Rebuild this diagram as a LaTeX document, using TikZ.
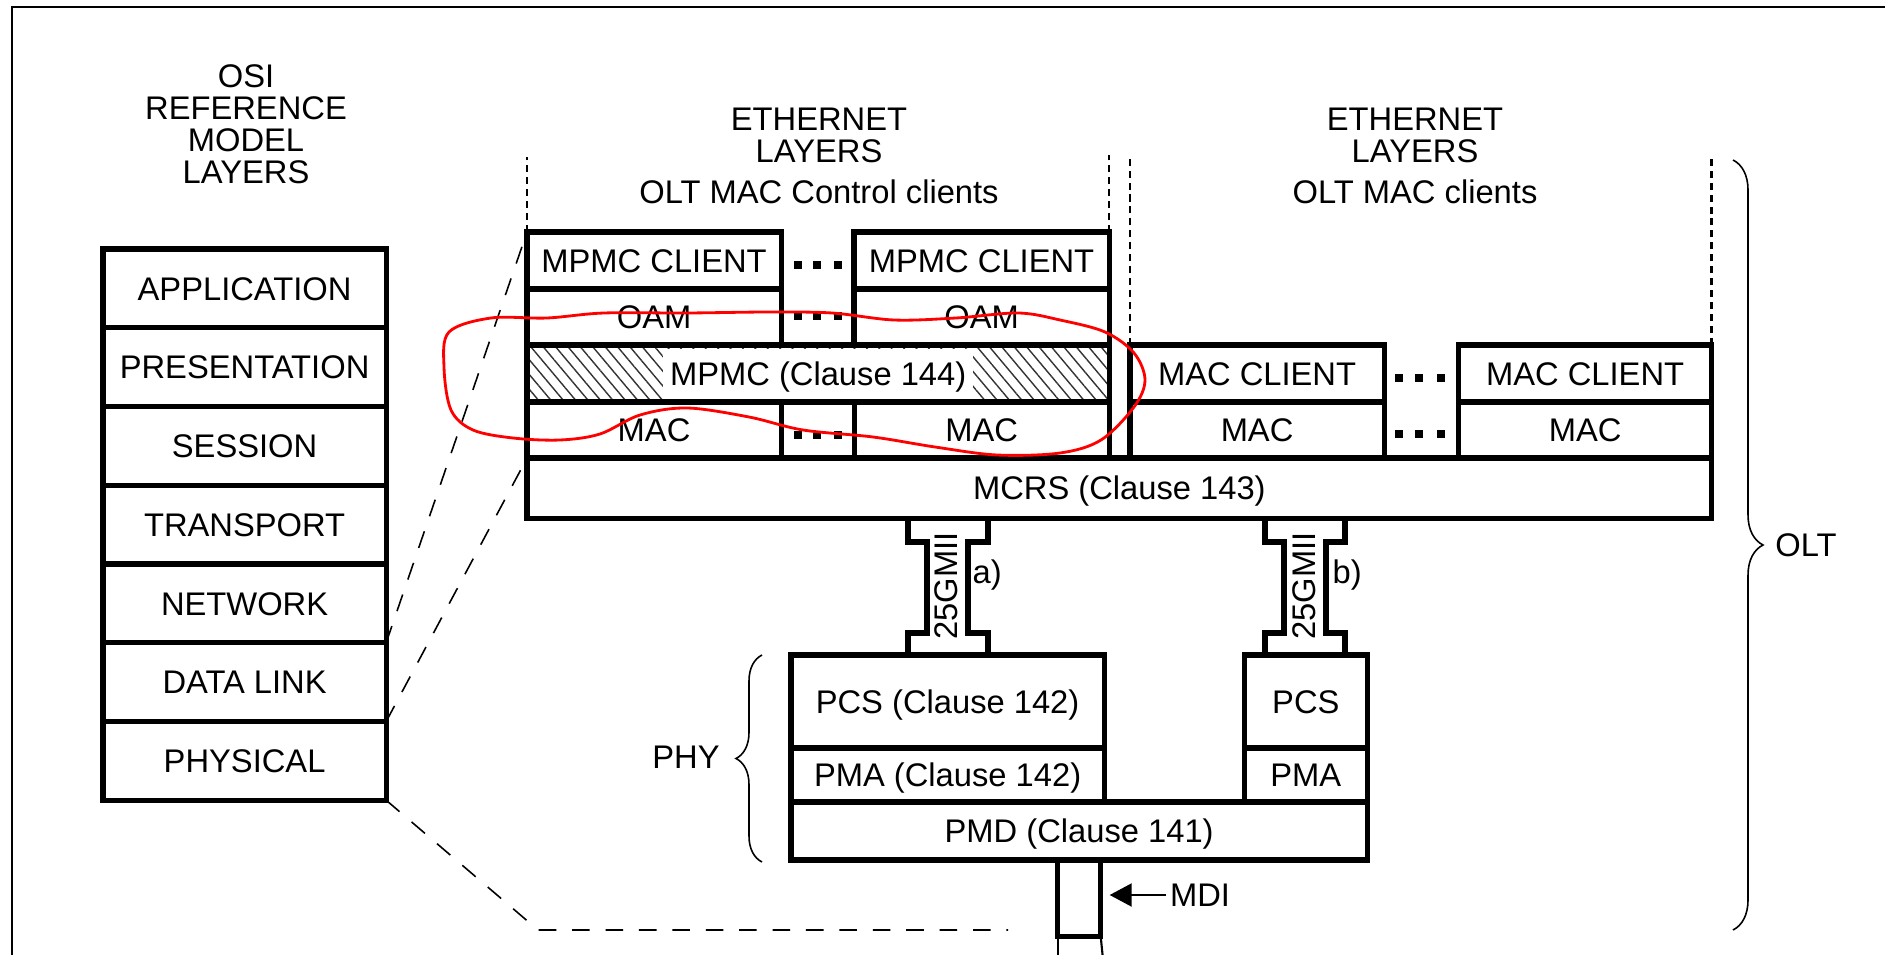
\documentclass[tikz,border=0pt]{standalone}
\usepackage{fontspec}
\setmainfont{Liberation Sans}
\usepackage{tikz}
\usetikzlibrary{arrows.meta,positioning,decorations.pathreplacing,patterns.meta}
\newcommand{\figfont}{\fontsize{9.3}{9.1}\selectfont}

\begin{document}
\begin{tikzpicture}[x=0.01cm, y=-0.01cm, every node/.style={font=\figfont},
  cell/.style={draw, line width=1.5pt, inner sep=0pt, outer sep=0pt, text height=6.7pt, text depth=0pt},
  osirow/.style={cell, minimum width=2.83cm, minimum height=0.787cm},
  client/.style={cell, minimum width=2.54cm, minimum height=0.57cm},
  sublayer/.style={cell, minimum width=2.54cm, minimum height=0.56cm},
  title/.style={align=center, anchor=north, inner sep=0pt},
  guide/.style={line width=0.45pt, dash pattern=on 5pt off 4.5pt},
  bound/.style={line width=0.75pt, dash pattern=on 2pt off 1.4pt},
  bus/.style={line width=1.5pt},
  curly/.style={decorate, line width=0.45pt}]
\useasboundingbox (0,0) rectangle (1885,955);
\draw[line width=0.7pt] (12,955) -- (12,7) -- (1885,7);

% OSI reference model
\node[title] (osi) at (246,64) {OSI\\REFERENCE\\MODEL\\LAYERS};
\node[osirow, anchor=north west] (app) at (103,249) {APPLICATION};
\node[osirow, below=0pt of app] (pres) {PRESENTATION};
\node[osirow, below=0pt of pres] (sess) {SESSION};
\node[osirow, below=0pt of sess] (trans) {TRANSPORT};
\node[osirow, below=0pt of trans] (net) {NETWORK};
\node[osirow, below=0pt of net] (dl) {DATA LINK};
\node[osirow, below=0pt of dl] (phys) {PHYSICAL};

% ethernet layers, MAC Control clients
\node[title] (ethl) at (819,107) {ETHERNET\\LAYERS\\[2.6pt]OLT MAC Control clients};
\node[client, anchor=north west] (mpmcc1) at (527,232) {MPMC CLIENT};
\node[sublayer, below=0pt of mpmcc1] (oam1) {OAM};
\node[client, minimum width=2.55cm, anchor=north west] (mpmcc2) at (854,232) {MPMC CLIENT};
\node[sublayer, minimum width=2.55cm, below=0pt of mpmcc2] (oam2) {OAM};
\node[cell, minimum width=5.82cm, minimum height=0.57cm, anchor=north west,
  pattern={Lines[angle=-50,distance=2.7pt,line width=0.4pt]}, pattern color=black!80] (mpmc) at (oam1.south west) {};
\node[cell, draw=none, fill=white, inner xsep=2pt, minimum height=0.5cm] (mpmctxt) at (mpmc.center) {MPMC (Clause 144)};
\node[sublayer, anchor=north west] (mac1) at (mpmc.south west) {MAC};
\node[sublayer, minimum width=2.55cm, anchor=north east] (mac2) at (mpmc.south east) {MAC};
\node[cell, minimum width=11.84cm, minimum height=0.6cm, anchor=north west] (mcrs) at (mac1.south west) {MCRS (Clause 143)};

% ethernet layers, MAC clients
\node[title] (ethr) at (1415,107) {ETHERNET\\LAYERS\\[2.6pt]OLT MAC clients};
\node[client, anchor=north west] (macc1) at (1130,345) {MAC CLIENT};
\node[sublayer, below=0pt of macc1] (macr1) {MAC};
\node[sublayer, minimum width=2.53cm, anchor=south east] (macr2) at (mcrs.north east) {MAC};
\node[client, minimum width=2.53cm, above=0pt of macr2] (macc2) {MAC CLIENT};

\foreach \x in {794,813,834}
  \foreach \y in {261,312,431}
    \fill (\x,\y) rectangle ++(8,8);
\foreach \x in {1395,1415,1437}
  \foreach \y in {374,430}
    \fill (\x,\y) rectangle ++(8,8);

\draw[bound] (mpmcc1.north west) -- ++(0,-75);
\draw[bound] (mpmcc2.north east) -- ++(0,-77);
\draw[bound] (macc1.north west) -- ++(0,-190);
\draw[bound] (macc2.north east) -- ++(0,-190);

% 25GMII
\draw[bus] (908,518) |- (927,542) |- (908,633) -- (908,655);
\draw[bus] (988,518) |- (968,542) |- (988,633) -- (988,655);
\draw[bus] (1265,518) |- (1284,542) |- (1265,633) -- (1265,655);
\draw[bus] (1345,518) |- (1326,542) |- (1345,633) -- (1345,655);
\node[rotate=90, inner sep=0pt] (gmiia) at (946,586) {25GMII};
\node[rotate=90, inner sep=0pt] (gmiib) at (1304,586) {25GMII};
\node[anchor=west, inner sep=0pt] (taga) at (972,575) {a)};
\node[anchor=west, inner sep=0pt] (tagb) at (1332,575) {b)};

% PHY
\node[cell, minimum width=3.13cm, minimum height=0.93cm, anchor=north west] (pcs1) at (791,655) {PCS (Clause 142)};
\node[cell, minimum width=3.13cm, minimum height=0.54cm, below=0pt of pcs1] (pma1) {PMA (Clause 142)};
\node[cell, minimum width=5.76cm, minimum height=0.58cm, anchor=north west] (pmd) at (pma1.south west) {PMD (Clause 141)};
\node[cell, minimum width=1.23cm, minimum height=0.54cm, anchor=south east] (pma2) at (pmd.north east) {PMA};
\node[cell, minimum width=1.23cm, minimum height=0.93cm, above=0pt of pma2] (pcs2) {PCS};
\node[cell, minimum width=0.43cm, minimum height=0.76cm, anchor=north] (stub) at (pmd.south) {};
\draw[line width=0.6pt] (stub.south west) -- ++(0,20);
\draw[line width=0.6pt] (stub.south east) -- ++(2,20);
\node[inner sep=1pt] (mdi) at (1200,895) {MDI};
\draw[-{Triangle[length=0.22cm,width=0.23cm]}, line width=0.6pt, shorten >=0.09cm] (mdi.west) -- (mdi.west -| stub.east);

\node (phy) at (686,757) {PHY};
\draw[curly, decoration={brace, amplitude=0.26cm}] (762,862) -- (762,655);
\node (olt) at (1806,545) {OLT};
\draw[curly, decoration={brace, amplitude=0.3cm}] (1733,160) -- (1733,930);

% mapping to the OSI layers
\coordinate (bend) at (538,930);
\coordinate (mdiend) at (1008,930);
\draw[guide] (dl.north east) -- (mpmcc1.north west);
\draw[guide] (dl.south east) -- (mcrs.north west);
\draw[guide] (phys.south east) -- (bend) -- (mdiend);

% hand drawn mark
\draw[red, line width=0.8pt] plot[smooth cycle, tension=0.55] coordinates {
  (547,318) (491,318) (449,332) (444,367) (451,410) (473,430) (513,438) (560,440)
  (600,434) (640,415) (687,408) (749,417) (803,430) (873,437) (935,447) (997,455)
  (1060,453) (1101,440) (1134,407) (1145,380) (1134,353) (1105,332) (1060,320)
  (1018,313) (956,318) (894,320) (832,313) (769,312) (687,313) (604,313)};
\end{tikzpicture}
\end{document}
